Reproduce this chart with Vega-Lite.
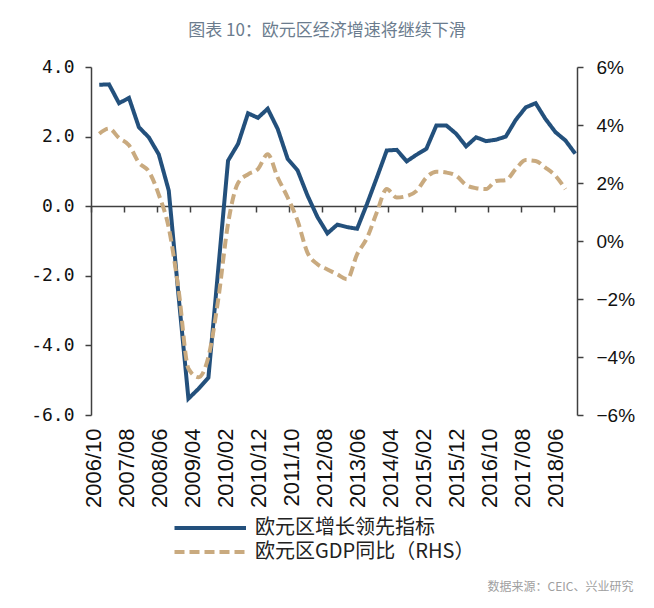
{
  "$schema": "https://vega.github.io/schema/vega-lite/v6.json",
  "width": 486,
  "height": 348,
  "autosize": {"type": "none"},
  "padding": {"left": 91, "top": 67, "right": 77, "bottom": 193},
  "background": "white",
  "title": {"text": "图表 10：欧元区经济增速将继续下滑", "font": "Noto Sans CJK SC", "fontSize": 17, "fontWeight": "normal", "color": "#6b7c8e", "anchor": "middle", "offset": 18, "dx": -7},
  "data": {"values": [
    {"date": "2006-12-16", "lead": 3.49, "gdp": 3.7},
    {"date": "2007-03-16", "lead": 3.50, "gdp": 3.88},
    {"date": "2007-06-16", "lead": 2.96, "gdp": 3.55},
    {"date": "2007-09-16", "lead": 3.11, "gdp": 3.3},
    {"date": "2007-12-16", "lead": 2.27, "gdp": 2.7},
    {"date": "2008-03-16", "lead": 1.98, "gdp": 2.4},
    {"date": "2008-06-16", "lead": 1.49, "gdp": 1.6},
    {"date": "2008-09-16", "lead": 0.45, "gdp": 0.45},
    {"date": "2008-12-16", "lead": -2.6, "gdp": -1.7},
    {"date": "2009-03-16", "lead": -5.53, "gdp": -4.4},
    {"date": "2009-06-16", "lead": -5.25, "gdp": -4.7},
    {"date": "2009-09-16", "lead": -4.93, "gdp": -4.0},
    {"date": "2009-12-16", "lead": -1.8, "gdp": -2.0},
    {"date": "2010-03-16", "lead": 1.31, "gdp": 0.6},
    {"date": "2010-06-16", "lead": 1.79, "gdp": 2.0},
    {"date": "2010-09-16", "lead": 2.67, "gdp": 2.3},
    {"date": "2010-12-16", "lead": 2.54, "gdp": 2.48},
    {"date": "2011-03-16", "lead": 2.80, "gdp": 2.99},
    {"date": "2011-06-16", "lead": 2.22, "gdp": 2.19},
    {"date": "2011-09-16", "lead": 1.36, "gdp": 1.5},
    {"date": "2011-12-16", "lead": 1.03, "gdp": 0.7},
    {"date": "2012-03-16", "lead": 0.31, "gdp": -0.4},
    {"date": "2012-06-16", "lead": -0.31, "gdp": -0.8},
    {"date": "2012-09-16", "lead": -0.78, "gdp": -0.98},
    {"date": "2012-12-16", "lead": -0.53, "gdp": -1.15},
    {"date": "2013-03-16", "lead": -0.60, "gdp": -1.32},
    {"date": "2013-06-16", "lead": -0.65, "gdp": -0.46},
    {"date": "2013-09-16", "lead": 0.07, "gdp": 0.11},
    {"date": "2013-12-16", "lead": 0.83, "gdp": 1.0},
    {"date": "2014-03-16", "lead": 1.60, "gdp": 1.79},
    {"date": "2014-06-16", "lead": 1.62, "gdp": 1.5},
    {"date": "2014-09-16", "lead": 1.29, "gdp": 1.55},
    {"date": "2014-12-16", "lead": 1.48, "gdp": 1.73},
    {"date": "2015-03-16", "lead": 1.65, "gdp": 2.19},
    {"date": "2015-06-16", "lead": 2.32, "gdp": 2.39},
    {"date": "2015-09-16", "lead": 2.32, "gdp": 2.36},
    {"date": "2015-12-16", "lead": 2.08, "gdp": 2.25},
    {"date": "2016-03-16", "lead": 1.72, "gdp": 1.93},
    {"date": "2016-06-16", "lead": 1.98, "gdp": 1.82},
    {"date": "2016-09-16", "lead": 1.87, "gdp": 1.79},
    {"date": "2016-12-16", "lead": 1.91, "gdp": 2.07},
    {"date": "2017-03-16", "lead": 2.00, "gdp": 2.10},
    {"date": "2017-06-16", "lead": 2.48, "gdp": 2.48},
    {"date": "2017-09-16", "lead": 2.84, "gdp": 2.79},
    {"date": "2017-12-16", "lead": 2.96, "gdp": 2.76},
    {"date": "2018-03-16", "lead": 2.51, "gdp": 2.53},
    {"date": "2018-06-16", "lead": 2.13, "gdp": 2.25},
    {"date": "2018-09-16", "lead": 1.89, "gdp": 1.79},
    {"date": "2018-12-16", "lead": 1.51, "gdp": null}
  ]},
  "transform": [
    {"fold": ["lead", "gdp"], "as": ["series", "value"]},
    {"filter": "isValid(datum.value)"}
  ],
  "layer": [
    {
      "transform": [{"filter": "datum.series == 'lead'"}],
      "mark": {"type": "line", "strokeWidth": 4},
      "encoding": {
        "x": {
          "field": "date", "type": "temporal",
          "scale": {"type": "utc", "domain": [{"year": 2006, "month": 10, "date": 1, "utc": true}, {"year": 2019, "month": 1, "date": 1, "utc": true}]},
          "axis": {
            "orient": "bottom",
            "values": [
              {"year": 2006, "month": 10, "date": 1, "utc": true},
              {"year": 2007, "month": 8, "date": 1, "utc": true},
              {"year": 2008, "month": 6, "date": 1, "utc": true},
              {"year": 2009, "month": 4, "date": 1, "utc": true},
              {"year": 2010, "month": 2, "date": 1, "utc": true},
              {"year": 2010, "month": 12, "date": 1, "utc": true},
              {"year": 2011, "month": 10, "date": 1, "utc": true},
              {"year": 2012, "month": 8, "date": 1, "utc": true},
              {"year": 2013, "month": 6, "date": 1, "utc": true},
              {"year": 2014, "month": 4, "date": 1, "utc": true},
              {"year": 2015, "month": 2, "date": 1, "utc": true},
              {"year": 2015, "month": 12, "date": 1, "utc": true},
              {"year": 2016, "month": 10, "date": 1, "utc": true},
              {"year": 2017, "month": 8, "date": 1, "utc": true},
              {"year": 2018, "month": 6, "date": 1, "utc": true}
            ],
            "labelExpr": "utcFormat(datum.value, '%Y/%m')",
            "labelAngle": -90,
            "labelAlign": "right",
            "labelBaseline": "middle",
            "labelFont": "Liberation Sans",
            "labelFontSize": 22,
            "labelColor": "#111111",
            "labelPadding": 13,
            "labelOffset": 2,
            "labelOverlap": false,
            "labelFlush": false,
            "labelBound": false,
            "domain": false,
            "ticks": false,
            "grid": false,
            "title": "数据来源：CEIC、兴业研究",
            "titleX": 542,
            "titleY": 171,
            "titleAlign": "right",
            "titleBaseline": "middle",
            "titleFont": "Noto Sans CJK SC",
            "titleFontSize": 12,
            "titleFontWeight": "normal",
            "titleColor": "#a0a0a0"
          }
        },
        "y": {
          "field": "value", "type": "quantitative",
          "scale": {"domain": [-6, 4], "nice": false, "zero": false},
          "axis": {
            "orient": "left",
            "values": [-6, -4, -2, 0, 2, 4],
            "labelExpr": "replace(format(datum.value, '.1f'), '−', '-')",
            "labelFont": "DejaVu Sans Mono",
            "labelFontSize": 18,
            "labelColor": "#111111",
            "tickSize": 6,
            "tickWidth": 1.5,
            "tickColor": "#404040",
            "domainColor": "#404040",
            "domainWidth": 1.5,
            "labelPadding": 11,
            "grid": false,
            "title": null
          }
        },
        "color": {
          "field": "series", "type": "nominal",
          "scale": {"domain": ["lead", "gdp"], "range": ["#23507c", "#c9aa7f"]},
          "legend": {
            "orient": "none", "legendX": 131, "legendY": 448, "title": null,
            "symbolType": "M-5.5,0H1", "symbolSize": 484, "symbolStrokeWidth": 4,
            "labelFont": "Noto Sans CJK SC", "labelFontSize": 20, "labelColor": "#222222",
            "labelOffset": 7, "rowPadding": 1, "padding": 0, "labelLimit": 400,
            "labelExpr": "datum.value == 'lead' ? '欧元区增长领先指标' : '欧元区GDP同比（RHS）'"
          }
        },
        "strokeDash": {
          "field": "series", "type": "nominal",
          "scale": {"domain": ["lead", "gdp"], "range": [[1, 0], [10, 5]]},
          "legend": {
            "orient": "none", "legendX": 131, "legendY": 448, "title": null,
            "symbolType": "M-5.5,0H1", "symbolSize": 484, "symbolStrokeWidth": 4,
            "labelFont": "Noto Sans CJK SC", "labelFontSize": 20, "labelColor": "#222222",
            "labelOffset": 7, "rowPadding": 1, "padding": 0, "labelLimit": 400,
            "labelExpr": "datum.value == 'lead' ? '欧元区增长领先指标' : '欧元区GDP同比（RHS）'"
          }
        }
      }
    },
    {
      "transform": [{"filter": "datum.series == 'gdp'"}],
      "mark": {"type": "line", "strokeWidth": 4, "interpolate": "monotone"},
      "encoding": {
        "x": {
          "field": "date", "type": "temporal",
          "axis": {
            "orient": "bottom",
            "offset": -209,
            "values": [
              {"year": 2006, "month": 10, "date": 1, "utc": true},
              {"year": 2007, "month": 8, "date": 1, "utc": true},
              {"year": 2008, "month": 6, "date": 1, "utc": true},
              {"year": 2009, "month": 4, "date": 1, "utc": true},
              {"year": 2010, "month": 2, "date": 1, "utc": true},
              {"year": 2010, "month": 12, "date": 1, "utc": true},
              {"year": 2011, "month": 10, "date": 1, "utc": true},
              {"year": 2012, "month": 8, "date": 1, "utc": true},
              {"year": 2013, "month": 6, "date": 1, "utc": true},
              {"year": 2014, "month": 4, "date": 1, "utc": true},
              {"year": 2015, "month": 2, "date": 1, "utc": true},
              {"year": 2015, "month": 12, "date": 1, "utc": true},
              {"year": 2016, "month": 10, "date": 1, "utc": true},
              {"year": 2017, "month": 8, "date": 1, "utc": true},
              {"year": 2018, "month": 6, "date": 1, "utc": true}
            ],
            "labels": false,
            "ticks": true,
            "tickSize": 6,
            "tickWidth": 1.5,
            "tickColor": "#404040",
            "domain": true,
            "domainColor": "#404040",
            "domainWidth": 1.5,
            "grid": false,
            "title": null
          }
        },
        "y": {
          "field": "value", "type": "quantitative",
          "scale": {"domain": [-6, 6], "nice": false, "zero": false},
          "axis": {
            "orient": "right",
            "values": [-6, -4, -2, 0, 2, 4, 6],
            "labelExpr": "format(datum.value, 'd') + '%'",
            "labelFont": "Liberation Sans",
            "labelFontSize": 19,
            "labelColor": "#111111",
            "tickSize": 6,
            "tickWidth": 1.5,
            "tickColor": "#404040",
            "domainColor": "#404040",
            "domainWidth": 1.5,
            "labelPadding": 13,
            "grid": false,
            "title": null
          }
        },
        "color": {"field": "series", "type": "nominal"},
        "strokeDash": {"field": "series", "type": "nominal"}
      }
    }
  ],
  "resolve": {"scale": {"y": "independent"}, "axis": {"x": "independent", "y": "independent"}},
  "config": {"view": {"stroke": null}}
}
